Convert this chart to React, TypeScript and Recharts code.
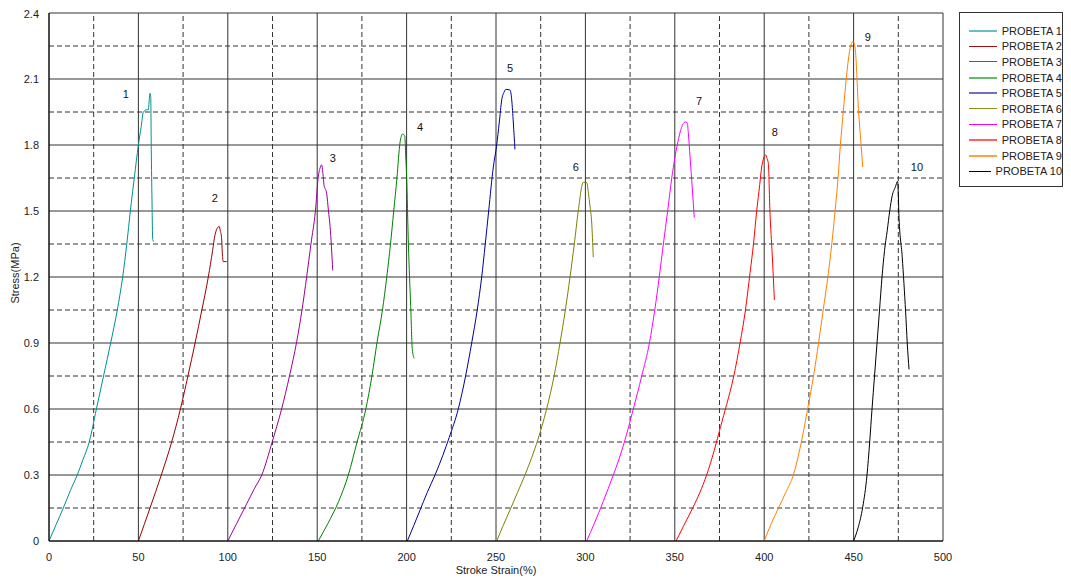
import React from "react";
import { LineChart, Line, XAxis, YAxis, CartesianGrid, ReferenceLine, ReferenceDot, Label } from "recharts";

type P = { x: number; y: number };
const mk = (a: number[][]): P[] => a.map(([x, y]) => ({ x, y }));

const probeta1 = mk([[0,0],[4,0.075],[8,0.15],[12,0.23],[15.8,0.3],[19,0.37],[22.5,0.45],[26.5,0.6],[30.5,0.75],[34.5,0.9],[38.2,1.05],[41.2,1.2],[43.5,1.35],[45.5,1.5],[47.7,1.65],[50,1.8],[51.5,1.88],[52.8,1.95],[54.6,1.96],[55.5,1.96],[56.5,2.035],[56.9,2.02],[57.2,1.78],[57.6,1.55],[58,1.37],[58.7,1.36]]);
const probeta2 = mk([[50,0],[56.5,0.15],[62.8,0.3],[68.6,0.45],[73.5,0.6],[77.7,0.75],[81.7,0.9],[85.5,1.05],[89.1,1.2],[91.5,1.32],[92.8,1.39],[94,1.42],[95.2,1.43],[95.8,1.41],[96.5,1.38],[97,1.3],[97.5,1.27],[98.5,1.27],[99.4,1.27]]);
const probeta3 = mk([[100,0],[105,0.08],[110,0.16],[115,0.24],[119,0.3],[124.8,0.45],[130.1,0.6],[134.5,0.75],[138.5,0.905],[141.5,1.05],[144.1,1.2],[146.5,1.35],[149,1.5],[150.6,1.655],[151.8,1.7],[152.5,1.71],[153.2,1.67],[153.8,1.62],[155.3,1.58],[156.3,1.5],[157.2,1.43],[158.7,1.23]]);
const probeta4 = mk([[150.6,0],[156,0.08],[162,0.18],[167.4,0.3],[172.3,0.45],[177.2,0.6],[180.6,0.75],[183.5,0.905],[186.5,1.05],[188.9,1.2],[191,1.35],[192.8,1.5],[194.6,1.65],[196.3,1.81],[197.8,1.85],[199,1.84],[199.5,1.75],[200,1.66],[201,1.35],[202.3,1.065],[203.2,0.87],[204.3,0.83]]);
const probeta5 = mk([[200.4,0],[204,0.07],[207.5,0.14],[211.5,0.22],[215.9,0.3],[220.3,0.39],[223.8,0.47],[228.9,0.6],[233,0.75],[236.4,0.9],[239.5,1.05],[242,1.2],[244,1.35],[245.9,1.5],[248.5,1.7],[250.4,1.8],[251.8,1.9],[253.2,2.005],[254.5,2.04],[255.6,2.053],[257.8,2.05],[258.8,2.005],[259.7,1.9],[260.6,1.78]]);
const probeta6 = mk([[250.4,0],[254,0.07],[257.8,0.14],[262,0.22],[266.2,0.3],[270,0.38],[273.4,0.46],[278.3,0.6],[282.5,0.75],[285.8,0.9],[288.8,1.05],[291.4,1.2],[293.8,1.35],[296,1.5],[298.8,1.63],[300.7,1.63],[301.7,1.58],[302.6,1.52],[303.5,1.45],[304.4,1.29]]);
const probeta7 = mk([[300.7,0],[305,0.08],[310,0.18],[315.6,0.3],[318.7,0.37],[321.8,0.45],[326.8,0.6],[331.5,0.75],[335.8,0.9],[338.8,1.05],[341.3,1.2],[343.6,1.35],[346,1.5],[348.3,1.65],[351.6,1.81],[353.8,1.88],[355.7,1.905],[357,1.9],[357.6,1.85],[358.5,1.75],[359.8,1.6],[360.9,1.47]]);
const probeta8 = mk([[350.7,0],[355,0.07],[360,0.15],[364,0.22],[367.8,0.3],[372,0.41],[375.6,0.52],[379,0.62],[383,0.75],[386.5,0.9],[389.5,1.05],[392.1,1.22],[394,1.35],[395.8,1.5],[397.5,1.62],[398.6,1.7],[400.8,1.755],[401.5,1.74],[402.3,1.717],[403.2,1.5],[404.5,1.3],[405.7,1.095]]);
const probeta9 = mk([[400,0],[404,0.08],[408,0.15],[412,0.22],[416.3,0.3],[420,0.42],[424.3,0.6],[427.6,0.75],[430.4,0.9],[433,1.05],[435.6,1.2],[437.8,1.35],[439.7,1.505],[441.3,1.65],[442.6,1.8],[444,1.93],[445.4,2.06],[446.8,2.17],[448.1,2.24],[449.7,2.27],[450.4,2.26],[451,2.23],[452.8,1.95],[454,1.82],[455.1,1.7]]);
const probeta10 = mk([[450,0],[452.5,0.06],[455.1,0.154],[457.5,0.3],[459,0.45],[460.3,0.6],[461.7,0.75],[463.1,0.9],[464.5,1.05],[465.9,1.2],[467.3,1.32],[468.8,1.41],[470.2,1.5],[471.6,1.57],[473.4,1.61],[474.6,1.635],[475,1.58],[475.3,1.49],[477.2,1.29],[479.1,1.04],[480,0.9],[481,0.78]]);

const seriesNames = ["PROBETA 1","PROBETA 2","PROBETA 3","PROBETA 4","PROBETA 5","PROBETA 6","PROBETA 7","PROBETA 8","PROBETA 9","PROBETA 10"];
const seriesData = [probeta1,probeta2,probeta3,probeta4,probeta5,probeta6,probeta7,probeta8,probeta9,probeta10];
const seriesColors = ["#009090","#990000","#990099","#008000","#000099","#808000","#ff00ff","#ff0000","#ff8000","#000000"];
const legendColors = ["#66c0c0","#a01010","#a030a0","#66bb66","#7070c0","#909020","#ff00ff","#ff6060","#ffa050","#000000"];

const annotationLabels = ["1","2","3","4","5","6","7","8","9","10"];
const annotationX = [43, 92.8, 158.8, 207.5, 257.8, 294.7, 363.5, 406, 458, 485.4];
const annotationY = [2.03, 1.56, 1.74, 1.88, 2.15, 1.70, 2.0, 1.86, 2.29, 1.70];

const xTicks = [0,50,100,150,200,250,300,350,400,450,500];
const yTicks = [0,0.3,0.6,0.9,1.2,1.5,1.8,2.1,2.4];
const xMinor = [25,75,125,175,225,275,325,375,425,475];
const yMinor = [0.15,0.45,0.75,1.05,1.35,1.65,1.95,2.25];

const FONT = "'Liberation Sans', Arial, Helvetica, sans-serif";

export default function App() {
  return (
    <div style={{ position: "relative", width: 1063, height: 574, fontFamily: FONT }}>
      <LineChart width={1063} height={574} margin={{ top: 5, right: 128, bottom: 11, left: 0 }}>
        <CartesianGrid stroke="#333" strokeWidth={1} />
        {xMinor.map((v) => (
          <ReferenceLine key={"vx" + v} x={v} stroke="#333" strokeDasharray="5 3" />
        ))}
        {yMinor.map((v) => (
          <ReferenceLine key={"hy" + v} y={v} stroke="#333" strokeDasharray="5 3" />
        ))}
        <XAxis
          type="number"
          dataKey="x"
          domain={[0, 500]}
          ticks={xTicks}
          allowDataOverflow
          height={30}
          axisLine={{ stroke: "#000" }}
          tickLine={false}
          tickMargin={6}
          tick={{ fontSize: 11, fill: "#222", fontFamily: FONT }}
        >
          <Label
            content={(p: any) => {
              const vb = p.viewBox || {};
              return (
                <text x={vb.x + vb.width / 2} y={vb.y + 33} textAnchor="middle" fontSize={11} fill="#222" fontFamily={FONT}>
                  Stroke Strain(%)
                </text>
              );
            }}
          />
        </XAxis>
        <YAxis
          type="number"
          dataKey="y"
          domain={[0, 2.4]}
          ticks={yTicks}
          allowDataOverflow
          width={41}
          axisLine={{ stroke: "#000" }}
          tickLine={false}
          tickMargin={4}
          tickFormatter={(v: number) => (v === 0 ? "0" : v.toFixed(1))}
          tick={{ fontSize: 11, fill: "#222", fontFamily: FONT }}
        >
          <Label
            content={(p: any) => {
              const vb = p.viewBox || {};
              const cx = vb.x + 7;
              const cy = vb.y + vb.height / 2 - 4;
              return (
                <text x={cx} y={cy} textAnchor="middle" dominantBaseline="central" fontSize={11} fill="#222" fontFamily={FONT} transform={`rotate(-90 ${cx} ${cy})`}>
                  Stress(MPa)
                </text>
              );
            }}
          />
        </YAxis>
        {seriesData.map((d, i) => (
          <Line
            key={seriesNames[i]}
            data={d}
            dataKey="y"
            name={seriesNames[i]}
            stroke={seriesColors[i]}
            strokeWidth={1}
            dot={false}
            type="monotoneX"
            isAnimationActive={false}
          />
        ))}
        {annotationLabels.map((t, i) => (
          <ReferenceDot
            key={"a" + t}
            x={annotationX[i]}
            y={annotationY[i]}
            r={0}
            shape={(p: any) => (
              <text x={p.cx} y={p.cy} textAnchor="middle" dominantBaseline="central" fontSize={11} fill="#111" stroke="none" fontFamily={FONT}>
                {t}
              </text>
            )}
          />
        ))}
      </LineChart>
      <div
        style={{
          position: "absolute",
          left: 951,
          top: 4,
          width: 104,
          height: 175,
          border: "1px solid #333",
          boxSizing: "border-box",
          paddingTop: 10,
          background: "#fff",
        }}
      >
        {seriesNames.map((n, i) => (
          <div key={n} style={{ display: "flex", alignItems: "center", height: 15.6, fontSize: 11, color: "#222", whiteSpace: "nowrap" }}>
            <span style={{ display: "inline-block", marginLeft: 9, width: 28, height: 0, borderTop: `${i === 0 || i === 3 || i === 4 || i === 7 || i === 8 ? 2 : 1}px solid ${legendColors[i]}` }} />
            <span style={{ marginLeft: 5 }}>{n}</span>
          </div>
        ))}
      </div>
    </div>
  );
}
